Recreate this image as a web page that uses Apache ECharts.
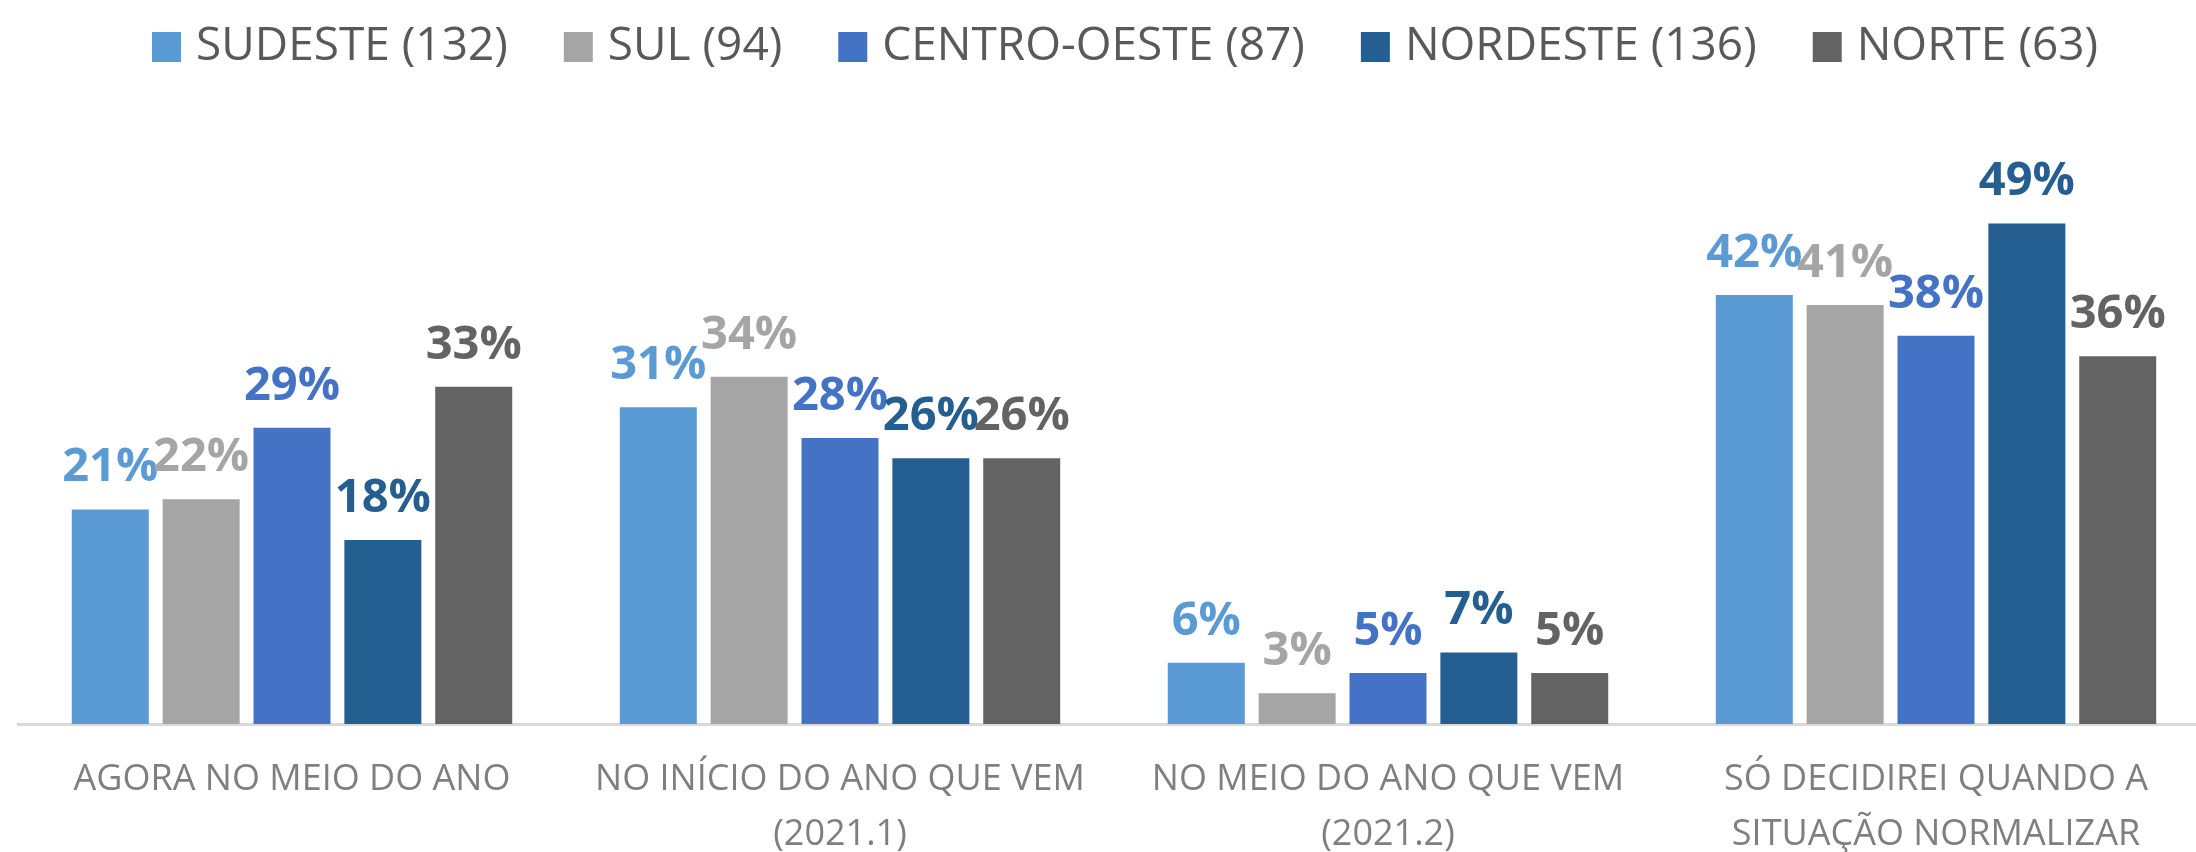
<!DOCTYPE html>
<html>
<head>
<meta charset="utf-8">
<script src="https://cdn.jsdelivr.net/npm/echarts@6/dist/echarts.min.js"></script>
<style>
html, body { margin: 0; padding: 0; background: #fff; }
#chart { width: 2196px; height: 852px; }
</style>
</head>
<body>
<div id="chart"></div>
<script>
var categories = [
    'AGORA NO MEIO DO ANO',
    'NO INÍCIO DO ANO QUE VEM\n(2021.1)',
    'NO MEIO DO ANO QUE VEM\n(2021.2)',
    'SÓ DECIDIREI QUANDO A\nSITUAÇÃO NORMALIZAR'
]
var seriesNames = ['SUDESTE (132)', 'SUL (94)', 'CENTRO-OESTE (87)', 'NORDESTE (136)', 'NORTE (63)']
var seriesColors = ['#5B9BD5', '#A5A5A5', '#4472C4', '#255E91', '#636363']
var sudeste = [21, 31, 6, 42]
var sul = [22, 34, 3, 41]
var centroOeste = [29, 28, 5, 38]
var nordeste = [18, 26, 7, 49]
var norte = [33, 26, 5, 36]

var values = [sudeste, sul, centroOeste, nordeste, norte]

var chart = echarts.init(document.getElementById('chart'))

var seriesdata = []
for (let i = 0; i < seriesNames.length; ++i) {
    seriesdata.push({
        name: seriesNames[i],
        type: 'bar',
        data: values[i],
        barWidth: 77,
        barGap: '18%',
        itemStyle: {
            color: seriesColors[i]
        },
        label: {
            show: true,
            position: 'top',
            distance: 18,
            formatter: '{c}%',
            color: seriesColors[i],
            fontFamily: 'Open Sans',
            fontWeight: 'bold',
            fontSize: 47
        },
        animation: false
    })
}

chart.setOption({
    legend: {
        data: seriesNames,
        top: 19,
        left: 147,
        itemWidth: 29,
        itemHeight: 30,
        itemGap: 56,
        icon: 'rect',
        textStyle: {
            color: '#595959',
            fontFamily: 'Open Sans',
            fontSize: 46,
            padding: [0, 0, 0, 10]
        }
    },
    grid: {
        left: 18,
        width: 2192,
        top: 111,
        bottom: 128,
        containLabel: false,
        outerBoundsMode: 'none'
    },
    xAxis: {
        type: 'category',
        data: categories,
        axisTick: { show: false },
        axisLine: {
            lineStyle: { color: '#D9D9D9', width: 3 }
        },
        axisLabel: {
            interval: 0,
            margin: 28,
            color: '#7F7F7F',
            fontFamily: 'Open Sans',
            fontSize: 36,
            lineHeight: 55
        }
    },
    yAxis: {
        type: 'value',
        min: 0,
        max: 60,
        show: false,
        splitLine: { show: false }
    },
    series: seriesdata
})
</script>
</body>
</html>
